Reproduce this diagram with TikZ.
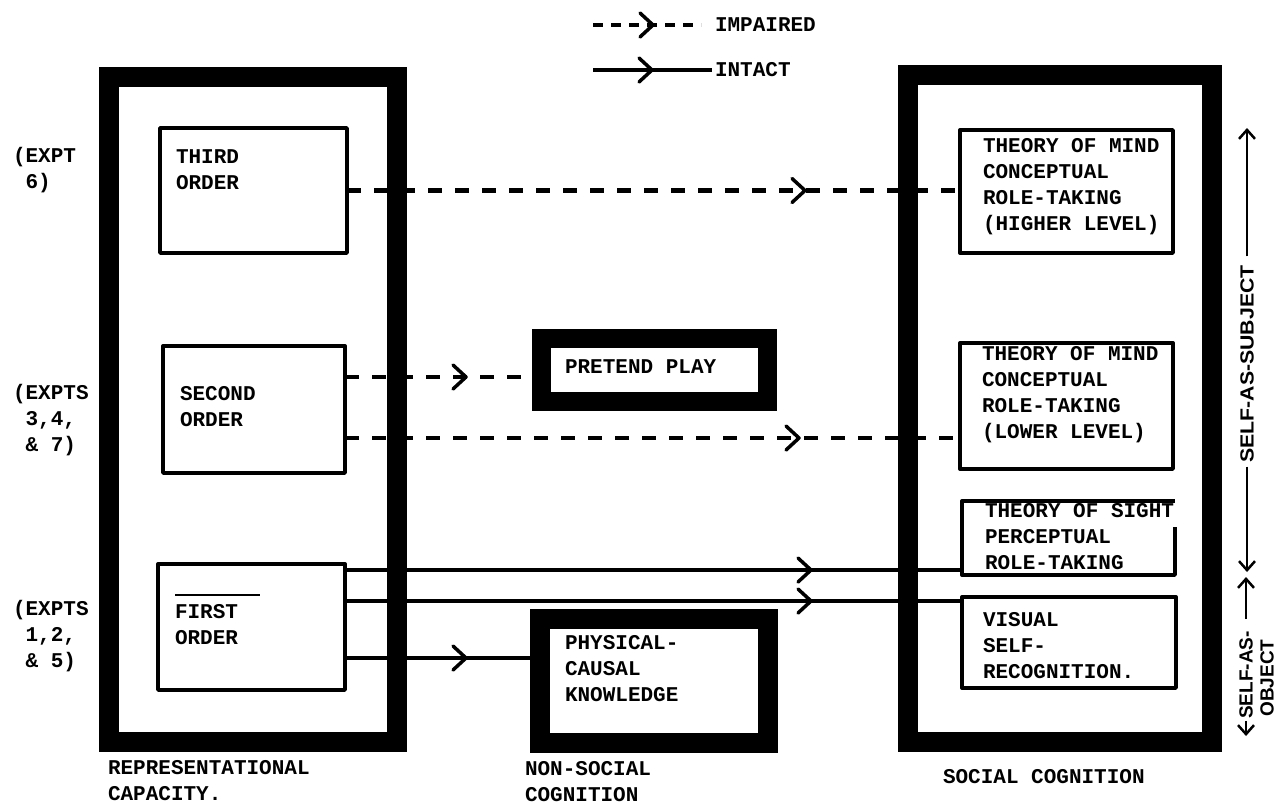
\documentclass[tikz,border=0pt]{standalone}
\usepackage{fontspec}
\setmonofont{Liberation Mono}
\setsansfont{Liberation Sans}
\usetikzlibrary{calc,decorations.markings,arrows.meta}
\begin{document}
\begin{tikzpicture}[x=1pt,y=-1pt,
  every node/.style={inner sep=0pt, outer sep=0pt},
  frame/.style={draw, line width=#1},
  frame/.default=20pt,
  boxline/.style={draw, line width=3.4pt, line join=round},
  txt/.style={font=\fontsize{21}{26}\selectfont\ttfamily\bfseries, align=left, anchor=west},
  vtxt/.style={font=\fontsize{19}{22}\selectfont\sffamily\bfseries, rotate=90},
  midarrow/.style={postaction={decorate, decoration={markings, mark=at position #1 with {\draw[solid, line width=3.5pt, line cap=round, line join=round] (-13pt,12pt) -- (0pt,0pt) -- (-13pt,-12pt);}}}},
  impaired/.style={line width=4.5pt, dash pattern=on 14pt off 13pt},
  intact/.style={line width=3.5pt},
  legimp/.style={line width=4pt, dash pattern=on 10pt off 8pt},
  sidearrow/.style={line width=2.5pt, -{Straight Barb[length=9pt,width=16pt,line width=2.5pt]}}
]
\useasboundingbox (0,0) rectangle (1276,807);

% thick frames
\node[frame, minimum width=288pt, minimum height=665pt] (rep) at (253,409.5) {};
\node[frame, minimum width=304pt, minimum height=667pt] (soc) at (1060,408.5) {};
\node[frame=19pt, minimum width=226pt, minimum height=63pt] (pretend) at (654,370) {};
\node[frame, minimum width=228pt, minimum height=124pt] (phys) at (654,680.5) {};

% thin boxes
\node[boxline, minimum width=187pt, minimum height=125pt] (third) at (253.5,190.5) {};
\node[boxline, minimum width=182pt, minimum height=127pt] (second) at (254,409.5) {};
\node[boxline, minimum width=187pt, minimum height=126pt] (first) at (251.5,627) {};
\node[boxline, minimum width=213pt, minimum height=123pt] (higher) at (1066.5,191.5) {};
\node[boxline, minimum width=213pt, minimum height=126pt] (lower) at (1066.5,406) {};
\node[minimum width=213pt, minimum height=74pt] (sight) at (1068.5,538) {};
\draw[boxline] ([yshift=-26pt]sight.north east) -- (sight.south east) -- (sight.south west) -- (sight.north west) -- (sight.north east);
\node[boxline, minimum width=214pt, minimum height=91pt] (visual) at (1069,642.5) {};

% texts in boxes
\node[txt] (t3) at (176,170) {THIRD\\ORDER};
\node[txt] (t2) at (180,406.5) {SECOND\\ORDER};
\node[txt] (t1) at (175,624.5) {FIRST\\ORDER};
\draw[line width=2pt] (175,595) -- (260,595);
\node[txt] (tp) at (565,367) {PRETEND PLAY};
\node[txt] (tk) at (565,669) {PHYSICAL-\\CAUSAL\\KNOWLEDGE};
\node[txt] (th) at (983,187) {THEORY OF MIND\\CONCEPTUAL\\ROLE-TAKING\\(HIGHER LEVEL)};
\node[txt] (tlw) at (982,395) {THEORY OF MIND\\CONCEPTUAL\\ROLE-TAKING\\(LOWER LEVEL)};
\node[txt] (ts) at (985,537) {THEORY OF SIGHT\\PERCEPTUAL\\ROLE-TAKING};
\node[txt] (tv) at (983,645.5) {VISUAL\\SELF-\\RECOGNITION.};

% left labels
\node[txt] (e6) at (13,170.5) {(EXPT\\\phantom{(}6)};
\node[txt] (e347) at (13,420) {(EXPTS\\\phantom{(}3,4,\\\phantom{(}\& 7)};
\node[txt] (e125) at (13,636) {(EXPTS\\\phantom{(}1,2,\\\phantom{(}\& 5)};

% bottom labels
\node[txt] (lrep) at (108,781) {REPRESENTATIONAL\\CAPACITY.};
\node[txt] (lnon) at (525,782) {NON-SOCIAL\\COGNITION};
\node[txt] (lsoc) at (943,777) {SOCIAL COGNITION};

% connectors
\coordinate (s1) at ($(second.east)+(0,-32.5)$);
\coordinate (s2) at ($(second.east)+(0,28.5)$);
\coordinate (f1) at ($(first.east)+(0,-57)$);
\coordinate (f2) at ($(first.east)+(0,-26)$);
\coordinate (f3) at ($(first.east)+(0,31)$);
\draw[impaired, midarrow=458pt] (third.east) -- (third.east -| higher.west);
\draw[impaired, midarrow=121pt] (s1) -- (s1 -| pretend.west);
\draw[impaired, midarrow=454pt] (s2) -- (s2 -| lower.west);
\draw[intact, midarrow=466pt] (f1) -- (f1 -| sight.west);
\draw[intact, midarrow=466pt] (f2) -- (f2 -| visual.west);
\draw[intact, midarrow=121pt] (f3) -- (f3 -| phys.west);

% legend
\node[txt] (limp) at (715,25) {IMPAIRED};
\node[txt] (lint) at (715,70) {INTACT};
\coordinate (li1) at (593,25);
\coordinate (li2) at (593,70);
\draw[legimp, midarrow=60pt] (li1) -- ([xshift=-14pt]limp.west);
\draw[intact, midarrow=59pt] (li2) -- ([xshift=-3pt]lint.west);

% right side vertical labels
\node[vtxt, font=\fontsize{19}{22}\selectfont\sffamily\bfseries\addfontfeatures{FakeStretch=1.12}] (sas) at (1247,364) {SELF-AS-SUBJECT};
\coordinate (sastop) at (1247,128);
\coordinate (sasbot) at (1247,572);
\draw[sidearrow] ([yshift=9pt]sas.east) -- (sastop);
\draw[sidearrow] ([yshift=-4pt]sas.west) -- (sasbot);
\node[vtxt] (sao) at (1246,675) {SELF-AS-};
\node[vtxt] (obj) at (1267,678) {OBJECT};
\coordinate (saotop) at (1246,577);
\coordinate (saobot) at (1246,736);
\draw[sidearrow] ([yshift=12pt]sao.east) -- (saotop);
\draw[sidearrow] ([yshift=-2pt]sao.west) -- (saobot);
\end{tikzpicture}
\end{document}
